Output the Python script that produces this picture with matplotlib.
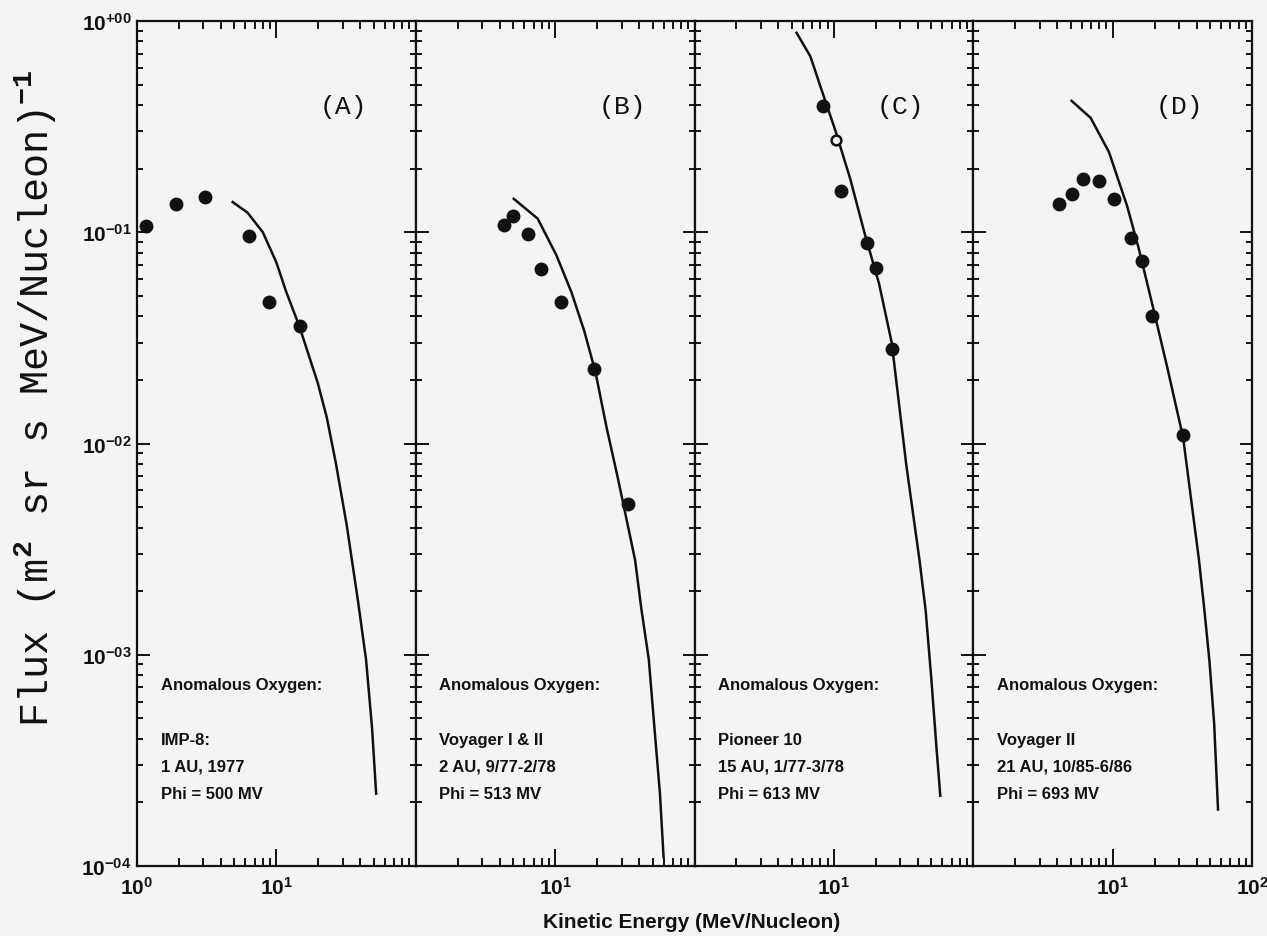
import matplotlib
matplotlib.use('Agg')
import matplotlib.pyplot as plt
from matplotlib import font_manager
from matplotlib.ticker import FixedLocator, LogLocator, NullFormatter

# pick a narrow bold face if we have one
names = {f.name for f in font_manager.fontManager.ttflist}
narrow = 'Liberation Sans Narrow' if 'Liberation Sans Narrow' in names else 'Liberation Sans'
mono = 'Liberation Mono' if 'Liberation Mono' in names else 'DejaVu Sans Mono'

plt.rcParams['font.family'] = [narrow, 'DejaVu Sans']
plt.rcParams['font.weight'] = 'bold'
plt.rcParams['mathtext.fontset'] = 'custom'
plt.rcParams['mathtext.rm'] = narrow + ':bold'
plt.rcParams['mathtext.bf'] = narrow + ':bold'
plt.rcParams['mathtext.it'] = narrow + ':bold'
plt.rcParams['mathtext.tt'] = mono
plt.rcParams['mathtext.default'] = 'rm'

## ---- data ---- ##
# (A) IMP-8, 1 AU
a_x = [1.17, 1.9, 3.06, 6.4, 8.8, 14.9]
a_y = [0.107, 0.136, 0.147, 0.096, 0.047, 0.036]
a_fit_x = [4.86, 6.2, 8.0, 10.0, 11.8, 14.6, 19.8, 23, 26.7, 32, 38.5, 44, 48.6, 52]
a_fit_y = [0.139, 0.124, 0.10, 0.072, 0.052, 0.036, 0.0194, 0.0133, 0.0081, 0.0041,
           0.0018, 9.5e-4, 4.5e-4, 2.2e-4]

# (B) Voyager I & II, 2 AU
b_x = [4.33, 5.02, 6.37, 7.86, 11.0, 19.1, 33.6]
b_y = [0.108, 0.119, 0.098, 0.067, 0.047, 0.0225, 0.0052]
b_fit_x = [5.05, 7.5, 10.2, 13.1, 16.2, 19.5, 23.4, 28, 31.6, 37.5, 41.5, 47, 51.6, 56.5, 60]
b_fit_y = [0.144, 0.116, 0.078, 0.052, 0.034, 0.0217, 0.0119, 0.007, 0.0048, 0.0028,
           0.00166, 9.5e-4, 4.5e-4, 2.2e-4, 1.1e-4]

# (C) Pioneer 10, 15 AU
c_x = [8.36, 11.3, 17.3, 20.1, 26.0]
c_y = [0.396, 0.157, 0.089, 0.068, 0.028]
c_open_x = [10.3]
c_open_y = [0.274]
c_fit_x = [5.4, 6.78, 8.36, 10.3, 13.1, 16.6, 21.1, 26, 33, 41, 45.5, 50, 54.5, 58]
c_fit_y = [0.88, 0.68, 0.45, 0.30, 0.179, 0.099, 0.057, 0.030, 0.008, 0.00285,
           0.00163, 7.7e-4, 3.6e-4, 2.15e-4]

# (D) Voyager II, 21 AU
d_x = [4.15, 5.07, 6.08, 8.0, 10.2, 13.5, 16.2, 19.1, 32.0]
d_y = [0.136, 0.151, 0.179, 0.174, 0.143, 0.094, 0.073, 0.040, 0.011]
d_fit_x = [5.07, 6.95, 9.4, 12.7, 15.3, 19.5, 24.8, 32, 41.5, 45.5, 49.5, 53.5, 57]
d_fit_y = [0.419, 0.348, 0.24, 0.133, 0.085, 0.044, 0.0225, 0.0107, 0.00285, 0.00163,
           9.3e-4, 4.7e-4, 1.85e-4]

panel_tags = ['(A)', '(B)', '(C)', '(D)']
notes = [
    ['IMP-8:', '1 AU, 1977', 'Phi = 500 MV'],
    ['Voyager I & II', '2 AU, 9/77-2/78', 'Phi = 513 MV'],
    ['Pioneer 10', '15 AU, 1/77-3/78', 'Phi = 613 MV'],
    ['Voyager II', '21 AU, 10/85-6/86', 'Phi = 693 MV'],
]
xtick_labels = [
    ['$10^0$', '$10^1$', ''],
    ['', '$10^1$', ''],
    ['', '$10^1$', ''],
    ['', '$10^1$', '$10^2$'],
]
ytick_vals = [1e-4, 1e-3, 1e-2, 1e-1, 1]
ytick_labels = ['$10^{-04}$', '$10^{-03}$', '$10^{-02}$', '$10^{-01}$', '$10^{+00}$']

points = [(a_x, a_y), (b_x, b_y), (c_x, c_y), (d_x, d_y)]
fits = [(a_fit_x, a_fit_y), (b_fit_x, b_fit_y), (c_fit_x, c_fit_y), (d_fit_x, d_fit_y)]

ink = '#111111'
paper = '#f4f4f4'

fig = plt.figure(figsize=(12.67, 9.37), dpi=100, facecolor=paper)
left, bottom, top, right = 0.1081, 0.0747, 0.9765, 0.9882
w = (right - left) / 4

for i in range(4):
    ax = fig.add_axes([left + i * w, bottom, w, top - bottom], facecolor=paper)
    ax.set_xscale('log')
    ax.set_yscale('log')

    fx, fy = fits[i]
    ax.plot(fx, fy, color=ink, lw=1.8, solid_joinstyle='round')
    px, py = points[i]
    ax.plot(px, py, 'o', color=ink, ms=10, mew=0)
    if i == 2:
        ax.plot(c_open_x, c_open_y, 'o', mfc=paper, mec=ink, ms=7, mew=1.8)

    ax.set_xlim(1, 100)
    ax.set_ylim(1e-4, 1)

    ax.xaxis.set_major_locator(FixedLocator([1, 10, 100]))
    ax.xaxis.set_minor_locator(LogLocator(base=10, subs=range(2, 10), numticks=20))
    ax.xaxis.set_minor_formatter(NullFormatter())
    ax.set_xticklabels(xtick_labels[i], fontsize=15)

    ax.yaxis.set_major_locator(FixedLocator(ytick_vals))
    ax.yaxis.set_minor_locator(LogLocator(base=10, subs=range(2, 10), numticks=20))
    ax.yaxis.set_minor_formatter(NullFormatter())
    if i == 0:
        ax.set_yticklabels(ytick_labels, fontsize=15)
    else:
        ax.set_yticklabels([''] * len(ytick_vals))

    ax.tick_params(which='both', direction='in', top=True, right=True,
                   color=ink, width=1.4, labelcolor=ink)
    ax.tick_params(axis='x', which='major', length=12, pad=7)
    ax.tick_params(axis='x', which='minor', length=6)
    ax.tick_params(axis='y', which='major', length=9, pad=4)
    ax.tick_params(axis='y', which='minor', length=4.5)
    for s in ax.spines.values():
        s.set_linewidth(1.6)
        s.set_color(ink)

    ax.text(0.74, 0.90, panel_tags[i], transform=ax.transAxes, ha='center', va='center',
            family=mono, fontweight='normal', fontsize=19, color=ink)

    ax.text(0.085, 0.215, 'Anomalous Oxygen:', transform=ax.transAxes, ha='left',
            va='center', fontsize=12, color=ink)
    for k, line in enumerate(notes[i]):
        ax.text(0.085, 0.150 - 0.032 * k, line, transform=ax.transAxes, ha='left',
                va='center', fontsize=12, color=ink)

fig.text(0.546, 0.016, 'Kinetic Energy (MeV/Nucleon)', ha='center', va='center',
         fontsize=15, color=ink)
fig.text(0.028, 0.575, r'Flux (m$^{\mathtt{2}}$ sr s MeV/Nucleon)$^{\mathtt{-1}}$',
         rotation=90, ha='center', va='center', family=mono, fontweight='normal',
         fontsize=29, color=ink)

fig.savefig('out.png', dpi=100, facecolor=paper)
